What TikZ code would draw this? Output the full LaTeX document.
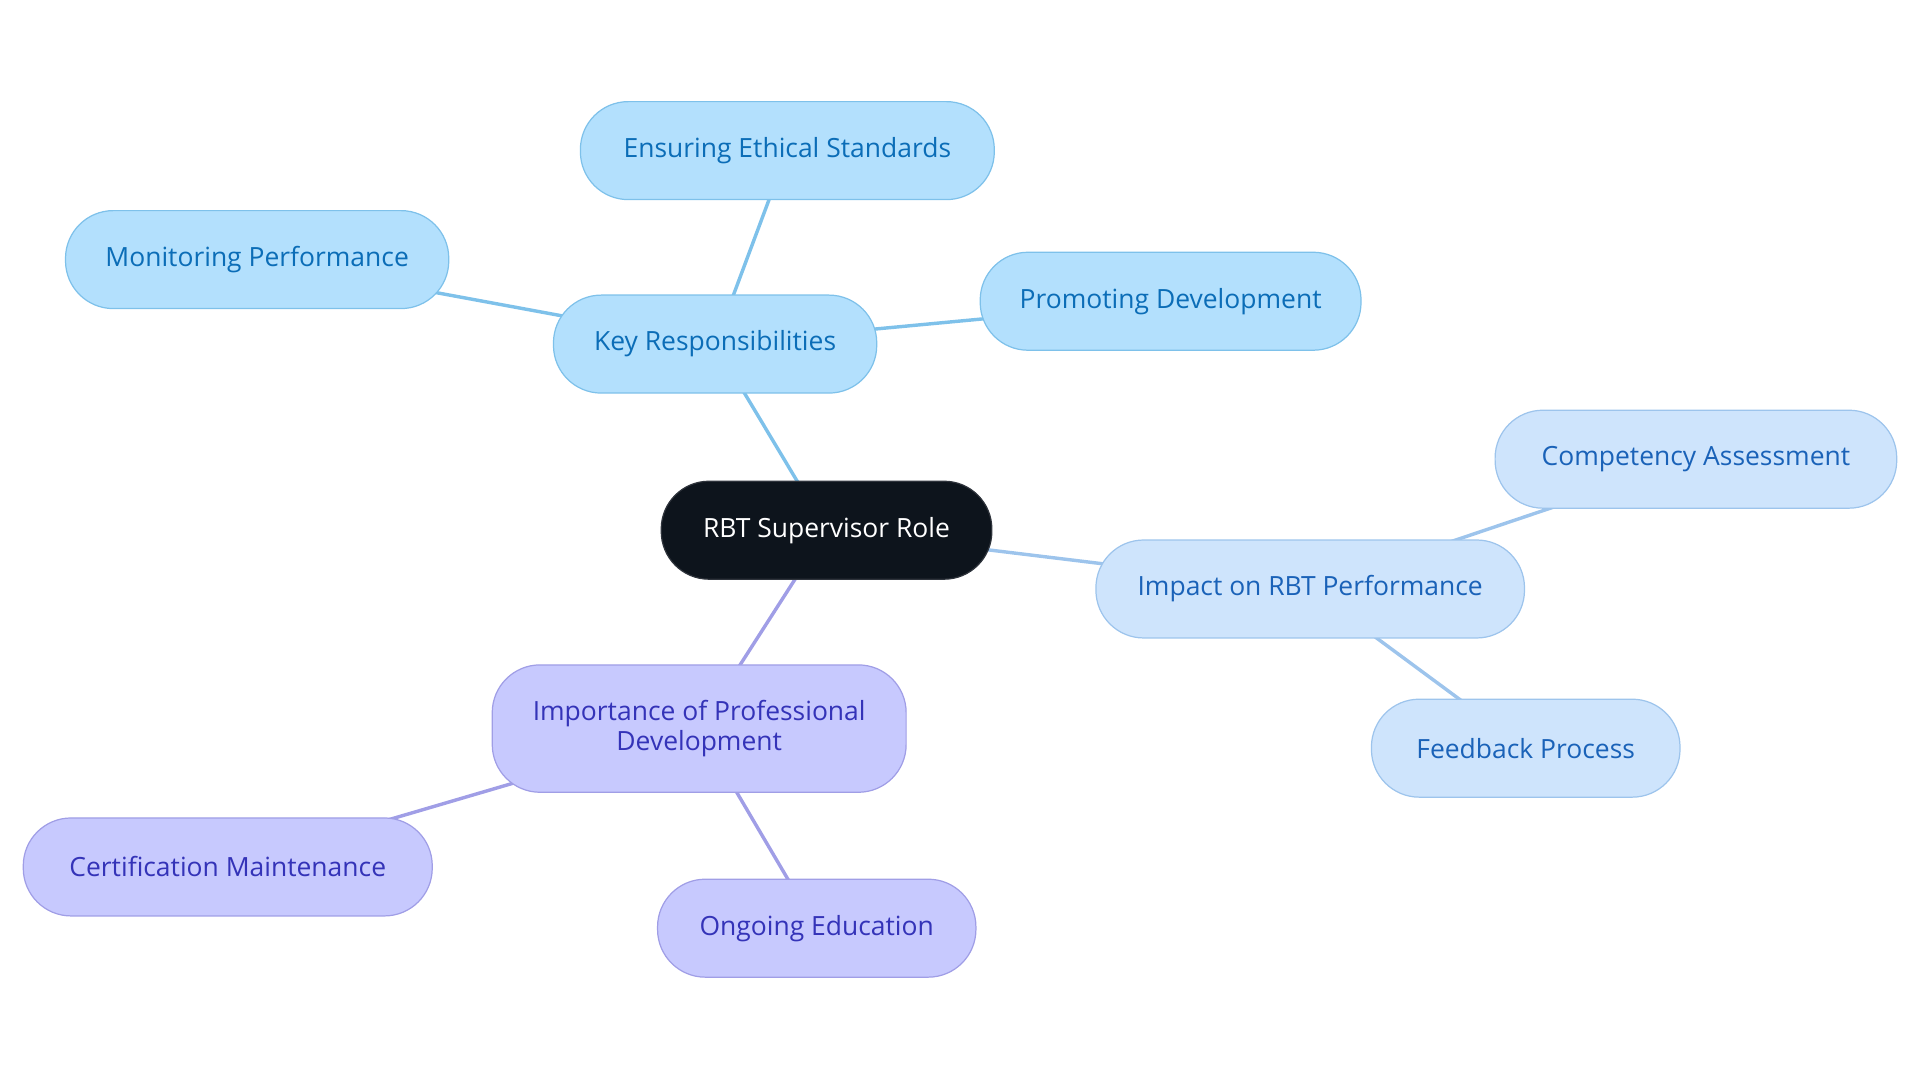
\documentclass[tikz,border=0pt]{standalone}
\usepackage{fontspec}
\setmainfont{Open Sans}
\usetikzlibrary{backgrounds}
\definecolor{rootfill}{HTML}{0D141C}
\definecolor{rootline}{HTML}{2E333B}
\definecolor{respfill}{HTML}{B3E0FD}
\definecolor{respline}{HTML}{7EC1EA}
\definecolor{resptext}{HTML}{0B6DB7}
\definecolor{impfill}{HTML}{CEE4FC}
\definecolor{impline}{HTML}{9DC4EC}
\definecolor{imptext}{HTML}{1A62B8}
\definecolor{devfill}{HTML}{C7C9FE}
\definecolor{devline}{HTML}{A09EE6}
\definecolor{devtext}{HTML}{3433B8}
\tikzstyle{base} = [draw, rounded corners=19.5pt, minimum height=40pt, inner xsep=0pt, align=center, line width=0.5pt, font=\fontsize{10.8}{12.5}\selectfont]
\tikzstyle{rootbox} = [base, fill=rootfill, draw=rootline, text=white]
\tikzstyle{respbox} = [base, fill=respfill, draw=respline, text=resptext]
\tikzstyle{impbox} = [base, fill=impfill, draw=impline, text=imptext]
\tikzstyle{devbox} = [base, fill=devfill, draw=devline, text=devtext]
\tikzstyle{respedge} = [line width=1.4pt, draw=respline]
\tikzstyle{impedge} = [line width=1.4pt, draw=impline]
\tikzstyle{devedge} = [line width=1.4pt, draw=devline]

\begin{document}
\begin{tikzpicture}[x=0.5pt, y=-0.5pt]
            \useasboundingbox (0,0) rectangle (1568,884);
            \node[rootbox, minimum width=135pt] (root) at (675,433) {RBT Supervisor Role};
            \node[respbox, minimum width=132pt] (kr) at (584,281) {Key Responsibilities};
            \node[respbox, minimum width=169pt] (ethics) at (643,123) {Ensuring Ethical Standards};
            \node[respbox, minimum width=156.5pt] (monitor) at (210,212) {Monitoring Performance};
            \node[respbox, minimum width=155.5pt] (promote) at (956,246) {Promoting Development};
            \node[impbox, minimum width=175pt] (impact) at (1070,481) {Impact on RBT Performance};
            \node[impbox, minimum width=164pt] (compet) at (1385,375) {Competency Assessment};
            \node[impbox, minimum width=126pt] (feedback) at (1246,611) {Feedback Process};
            \node[devbox, minimum width=169pt, minimum height=52pt] (profdev) at (571,595) {Importance of Professional\\Development};
            \node[devbox, minimum width=167pt] (cert) at (186,708) {Certification Maintenance};
            \node[devbox, minimum width=130pt] (educ) at (667,758) {Ongoing Education};
            \begin{pgfonlayer}{background}
            \draw[respedge] (root.center) -- (kr.center);
            \draw[respedge] (kr.center) -- (ethics.center);
            \draw[respedge] (kr.center) -- (monitor.center);
            \draw[respedge] (kr.center) -- (promote.center);
            \draw[impedge] (root.center) -- (impact.center);
            \draw[impedge] (impact.center) -- (compet.center);
            \draw[impedge] (impact.center) -- (feedback.center);
            \draw[devedge] (root.center) -- (profdev.center);
            \draw[devedge] (profdev.center) -- (cert.center);
            \draw[devedge] (profdev.center) -- (educ.center);
            \end{pgfonlayer}
        \end{tikzpicture}
\end{document}
